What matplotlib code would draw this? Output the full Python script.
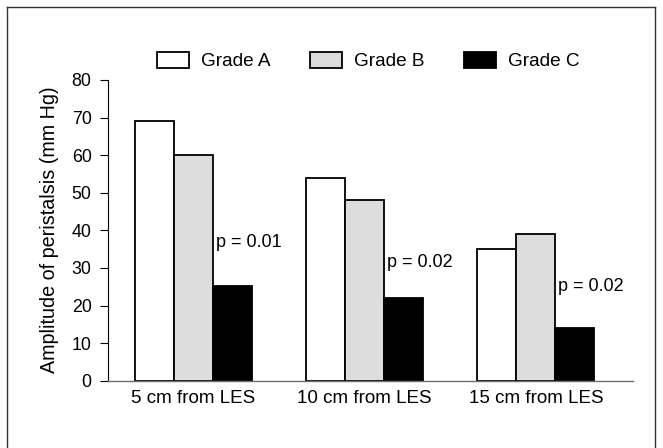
import matplotlib
matplotlib.use("Agg")
import matplotlib.pyplot as plt
from matplotlib.lines import Line2D
import numpy as np

plt.rcParams['font.family'] = ['Liberation Sans', 'DejaVu Sans']

sites = ['5 cm from LES', '10 cm from LES', '15 cm from LES']
grades = ['Grade A', 'Grade B', 'Grade C']
grade_a = [69, 54, 35]
grade_b = [60, 48, 39]
grade_c = [25.3, 22, 14]
p_labels = ['p = 0.01', 'p = 0.02', 'p = 0.02']
p_y = [35.6, 30.3, 23.8]

colors = ['white', '#dddddd', 'black']
w = 0.228

fig = plt.figure(figsize=(6.63, 4.48), dpi=100)
ax = fig.add_axes([108/663, 1-380.7/448, 525/663, 300.7/448])

x = np.arange(len(sites))
for k, (vals, c, lab) in enumerate(zip([grade_a, grade_b, grade_c], colors, grades)):
    ax.bar(x + (k-1)*w, vals, w, color=c, edgecolor='black', linewidth=1.3, label=lab, zorder=2)

for i, (t, yy) in enumerate(zip(p_labels, p_y)):
    ax.text(i + w/2 + 0.017, yy, t, fontsize=13, va='baseline', ha='left')

ax.set_xlim(-0.4994, 2.567)
ax.set_ylim(0, 80)
ax.set_yticks(range(0, 81, 10))
ax.set_xticks(x)
ax.set_xticklabels(sites, fontsize=13.5)
ax.tick_params(axis='x', length=0, pad=7)
ax.tick_params(axis='y', length=5.8, width=0.8, direction='out', labelsize=12.8, pad=6)

ax.spines['top'].set_visible(False)
ax.spines['right'].set_visible(False)
ax.spines['left'].set_linewidth(0.8)
ax.spines['bottom'].set_color('#6e6e6e')
ax.spines['bottom'].set_linewidth(1.0)
ax.spines['bottom'].set_zorder(3)

fig.text(50/663, 1-229.4/448, 'Amplitude of peristalsis (mm Hg)', rotation=90,
         ha='center', va='center', fontsize=14.2)

fig.legend(loc='center left', bbox_to_anchor=(156.7/663, 1-61.3/448), ncol=3,
           frameon=False, fontsize=13.7, borderpad=0, borderaxespad=0,
           handlelength=1.68, handleheight=0.88, handletextpad=0.66, columnspacing=2.05)

# outer frame around the figure (open at the bottom)
fx0, fx1, fy1 = 6.7/663, 655/663, 1-7.3/448
for xs, ys in [([fx0, fx0], [-0.01, fy1]), ([fx0, fx1], [fy1, fy1]), ([fx1, fx1], [fy1, -0.01])]:
    fig.add_artist(Line2D(xs, ys, color='#333333', linewidth=1.0))

fig.savefig('out.png', dpi=100)
